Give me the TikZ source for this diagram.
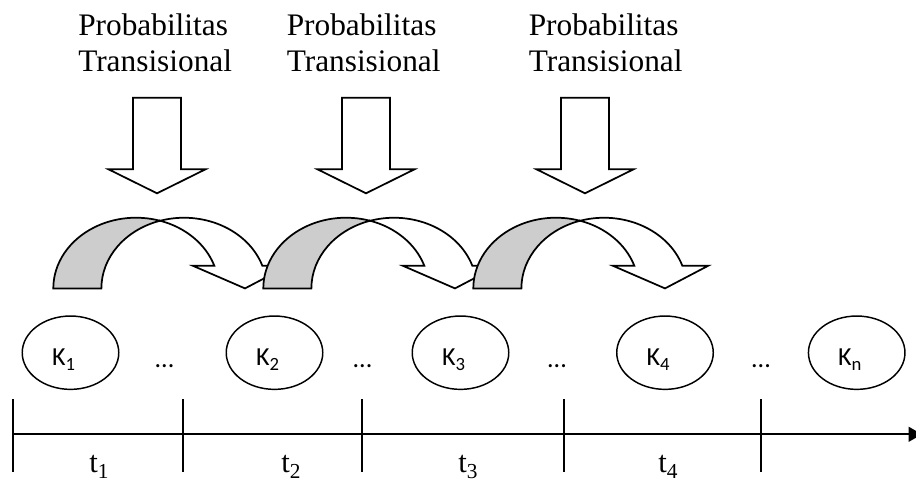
\documentclass[tikz,border=0pt]{standalone}
\usepackage{fontspec}
\setmainfont{Liberation Serif}
\newfontfamily\calib{Carlito}
\usetikzlibrary{arrows.meta,shapes.geometric}

\definecolor{backgray}{RGB}{205,205,205}

% lowered subscripts in the two label fonts
\newcommand\ksub[1]{K\raisebox{-0.22em}{\fontsize{14}{14}\selectfont #1}}
\newcommand\tsub[1]{t\raisebox{-0.18em}{\fontsize{16}{16}\selectfont #1}}

% straight block arrow pointing down, centred at x = #1
\newcommand\downblock[1]{%
  \draw[shapeline, fill=white]
    ({#1-24},385.3) -- ({#1+24},385.3) -- ({#1+24},313.7) -- ({#1+48.5},313.7)
    -- (#1,289.7) -- ({#1-48.5},313.7) -- ({#1-24},313.7) -- cycle;}

% curved block arrow whose left foot starts at x = #1
\newcommand\curvedblock[1]{%
  % front band with the head
  \draw[shapeline, fill=white]
    ({#1+106.7},262.2) arc[start angle=106.9, end angle=18.7, x radius=82.7, y radius=70.7]
    -- ({#1+235},217.3) -- ({#1+191.7},194.6) -- ({#1+139.4},217.3) -- ({#1+161},217.3)
    arc[start angle=18.7, end angle=73.1, x radius=82.7, y radius=70.7] -- cycle;
  % shaded back band
  \draw[shapeline, fill=backgray]
    (#1,194.6) arc[start angle=180, end angle=73.1, x radius=82.7, y radius=70.7]
    arc[start angle=106.9, end angle=180, x radius=82.7, y radius=70.7] -- cycle;}

\begin{document}
\begin{tikzpicture}[x=0.75pt,y=0.75pt,
  shapeline/.style={draw=black, line width=1.3pt, line join=miter},
  toptext/.style={anchor=base west, align=left, inner sep=0pt,
    font=\fontsize{23.5}{27}\selectfont},
  kstate/.style={ellipse, draw=black, line width=1.1pt, minimum width=72.4pt,
    minimum height=55pt, inner sep=0pt},
  klabel/.style={anchor=base, inner sep=0pt, font=\calib\fontsize{19.5}{22}\selectfont},
  tlabel/.style={anchor=base, inner sep=0pt, font=\fontsize{23}{27}\selectfont},
  axisline/.style={draw=black, line width=1.5pt},
  tickline/.style={draw=black, line width=1.5pt}]
\useasboundingbox (0,0) rectangle (916,483);

% headings (anchored at the baseline of their second line)
\node[toptext] (p1) at (78,411.5) {Probabilitas\\Transisional};
\node[toptext] (p2) at (286.5,411.5) {Probabilitas\\Transisional};
\node[toptext] (p3) at (528.5,411.5) {Probabilitas\\Transisional};

% straight arrows
\downblock{157}
\downblock{366}
\downblock{585}

% curved arrows, later ones overlap the earlier heads
\curvedblock{53.3}
\curvedblock{263.3}
\curvedblock{473.3}

% states
\node[kstate] (k1) at (70.5,130.3) {};
\node[kstate] (k2) at (274.5,130.3) {};
\node[kstate] (k3) at (460.5,130.3) {};
\node[kstate] (k4) at (665,130.3) {};
\node[kstate] (kn) at (856.7,130.3) {};
\node[klabel] (k1t) at (63.5,118) {\ksub{1}};
\node[klabel] (k2t) at (267.5,118) {\ksub{2}};
\node[klabel] (k3t) at (453.5,118) {\ksub{3}};
\node[klabel] (k4t) at (658,118) {\ksub{4}};
\node[klabel] (knt) at (849.7,118) {\ksub{n}};
\node[klabel] (d1) at (164.5,116) {...};
\node[klabel] (d2) at (362.5,116) {...};
\node[klabel] (d3) at (557,116) {...};
\node[klabel] (d4) at (761,116) {...};

% time axis
\coordinate (ax0) at (12.7,48.7);
\coordinate (ax1) at (922,48.7);
\draw[axisline, -{Triangle[length=10pt,width=11pt]}] (ax0) -- (ax1);
\foreach \tx in {12.7,182.7,362,564,761}
  \draw[tickline] (\tx,83.7) -- (\tx,11.3);

\node[tlabel] (t1) at (99,10.5) {\tsub{1}};
\node[tlabel] (t2) at (291,10.5) {\tsub{2}};
\node[tlabel] (t3) at (468,10.5) {\tsub{3}};
\node[tlabel] (t4) at (668,10.5) {\tsub{4}};
\end{tikzpicture}
\end{document}
